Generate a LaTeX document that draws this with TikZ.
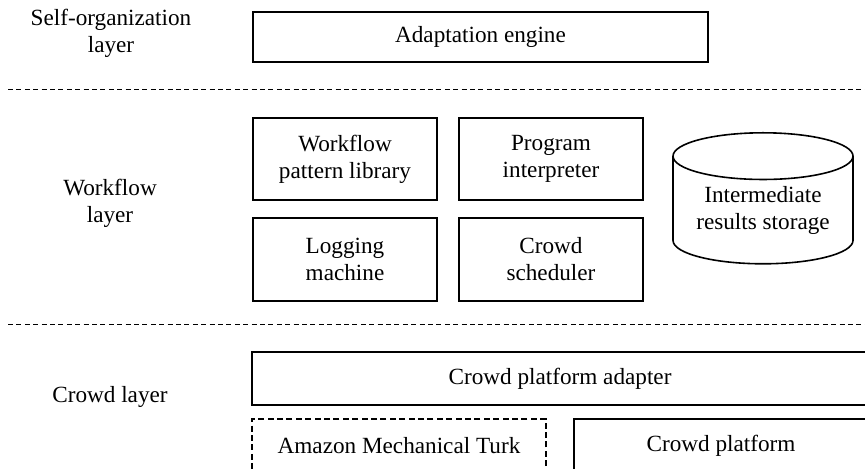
\documentclass[tikz,border=0pt]{standalone}
\usepackage{fontspec}
\setmainfont{Liberation Serif}
\usepackage{tikz}
\usetikzlibrary{shapes.geometric}
\newcommand\txtfont{\fontsize{11.6}{13.5}\selectfont}
\tikzstyle{blk}=[draw,line width=.8pt,align=center,inner sep=0pt,font=\txtfont]
\tikzstyle{wfblk}=[blk,minimum width=92pt,minimum height=41pt]
\tikzstyle{lyr}=[align=center,font=\txtfont]
\tikzstyle{sep}=[line width=.5pt,dash pattern=on 2.5pt off 1.7pt]

\begin{document}
\begin{tikzpicture}[x=.5pt,y=-.5pt]
	\useasboundingbox (0,0) rectangle (865,469);
	\clip (0,0) rectangle (865,469);
	\node[lyr] (so) at (111,33) {Self-organization\\layer};
	\node[lyr] (wf) at (110,203) {Workflow\\layer};
	\node[lyr] (cr) at (110,397) {Crowd layer};
	\draw[sep] (8,90) -- (865,90);
	\draw[sep] (8,325) -- (865,325);
	\node[blk,minimum width=227.5pt,minimum height=25pt] (adapt) at (480.5,37) {Adaptation engine};
	\node[wfblk] (wpl) at (345,159) {Workflow\\pattern library};
	\node[wfblk] (prog) at (551,159) {Program\\interpreter};
	\node[wfblk,minimum height=41.5pt] (logm) at (345,259.5) {Logging\\machine};
	\node[wfblk,minimum height=41.5pt] (sched) at (551,259.5) {Crowd\\scheduler};
	\node[blk,cylinder,shape border rotate=90,aspect=.35,minimum width=90pt,minimum height=65.5pt,anchor=north] (store) at (763,132) {Intermediate\\results storage};
	\node[blk,minimum width=308pt,minimum height=26.5pt] (cpa) at (560,378.5) {Crowd platform adapter};
	\node[blk,dash pattern=on 3pt off 1.7pt,minimum width=147pt,minimum height=27pt] (amt) at (399,446) {Amazon Mechanical Turk};
	\node[blk,minimum width=147pt,minimum height=27pt] (cpf) at (721,446) {Crowd platform};
\end{tikzpicture}
\end{document}
